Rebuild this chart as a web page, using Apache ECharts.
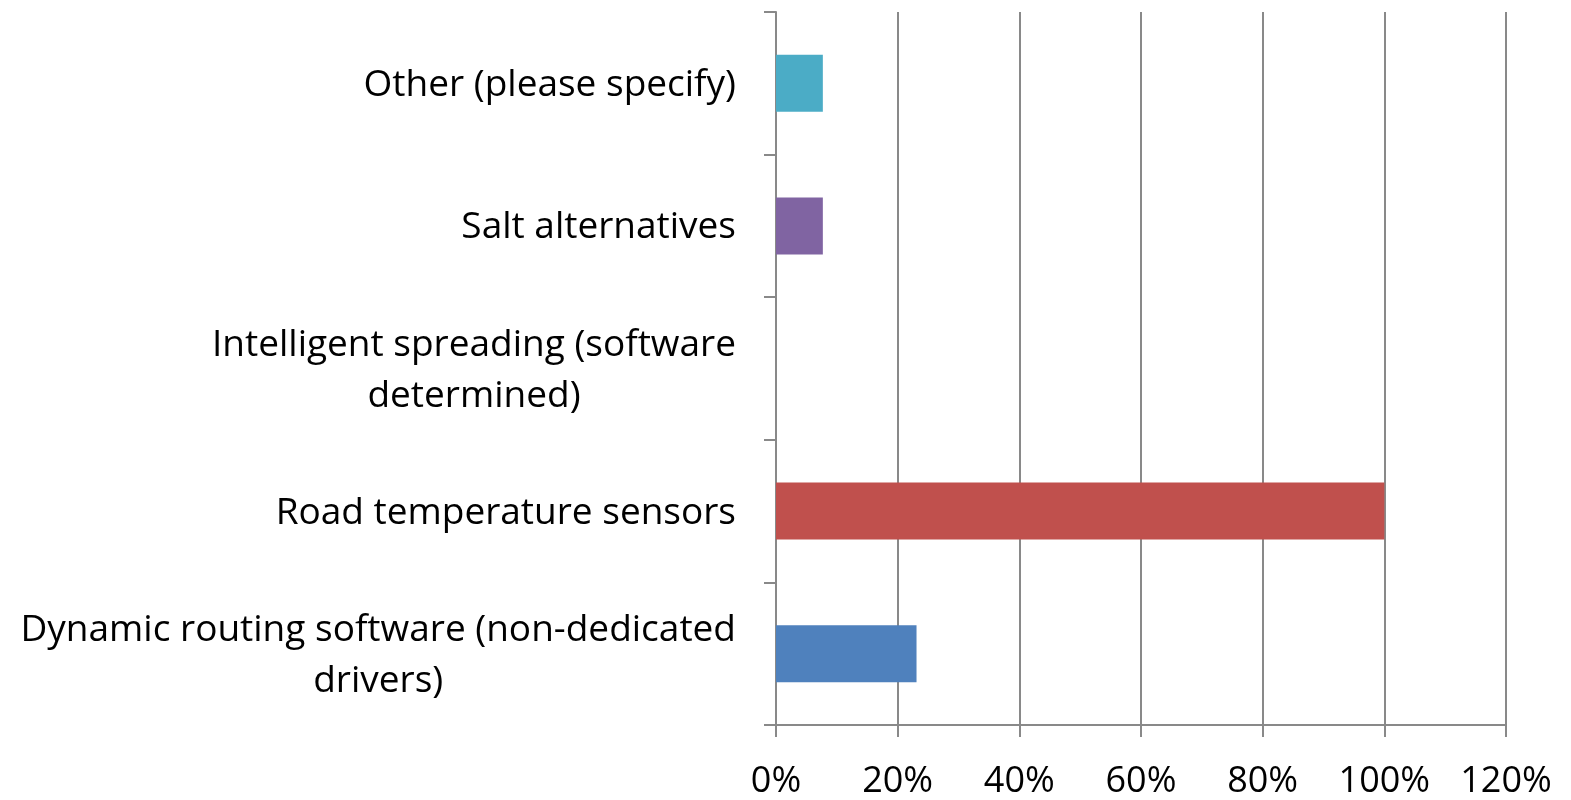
<!DOCTYPE html>
<html>
<head>
<meta charset="utf-8">
<script src="https://cdn.jsdelivr.net/npm/echarts@6/dist/echarts.min.js"></script>
<style>html,body{margin:0;padding:0;background:#fff}#c{width:1571px;height:800px}</style>
</head>
<body>
<div id="c"></div>
<script>
const categories = [
  "Dynamic routing software (non-dedicated\ndrivers)",
  "Road temperature sensors",
  "Intelligent spreading (software\ndetermined)",
  "Salt alternatives",
  "Other (please specify)"
];
const values = [23.1, 100, 0, 7.7, 7.7];
const barColors = ["#4F81BD", "#C0504D", "#9BBB59", "#8064A2", "#4BACC6"];
const xTicks = { min: 0, max: 120, interval: 20 };

const chart = echarts.init(document.getElementById('c'));
const axisGray = '#898989';
chart.setOption({
  animation: false,
  grid: { left: 776, right: 65, top: 12, bottom: 74 },
  xAxis: {
    type: 'value', min: xTicks.min, max: xTicks.max, interval: xTicks.interval,
    axisLine: { show: true, lineStyle: { color: axisGray, width: 2 } },
    axisTick: { show: true, length: 12, lineStyle: { color: axisGray, width: 2 } },
    splitLine: { show: true, lineStyle: { color: axisGray, width: 2 } },
    axisLabel: { formatter: v => v + '%', color: '#000', fontFamily: 'Open Sans', fontSize: 36, margin: 39 }
  },
  yAxis: {
    type: 'category', data: categories,
    axisLine: { show: true, lineStyle: { color: axisGray, width: 2 } },
    axisTick: { show: true, length: 12, lineStyle: { color: axisGray, width: 2 } },
    axisLabel: {
      margin: 40, color: '#000', fontFamily: 'Open Sans', fontSize: 37, lineHeight: 51,
      formatter: s => s.split('\n').map(l => '{c|' + l + '}').join('\n'),
      rich: { c: { align: 'center', fontFamily: 'Open Sans', fontSize: 37, lineHeight: 51, color: '#000', padding: [4, 0, 0, 0] } }
    }
  },
  series: [{
    type: 'bar', barCategoryGap: '60%',
    data: values.map((v, i) => ({ value: v, itemStyle: { color: barColors[i] } }))
  }]
});
</script>
</body>
</html>
